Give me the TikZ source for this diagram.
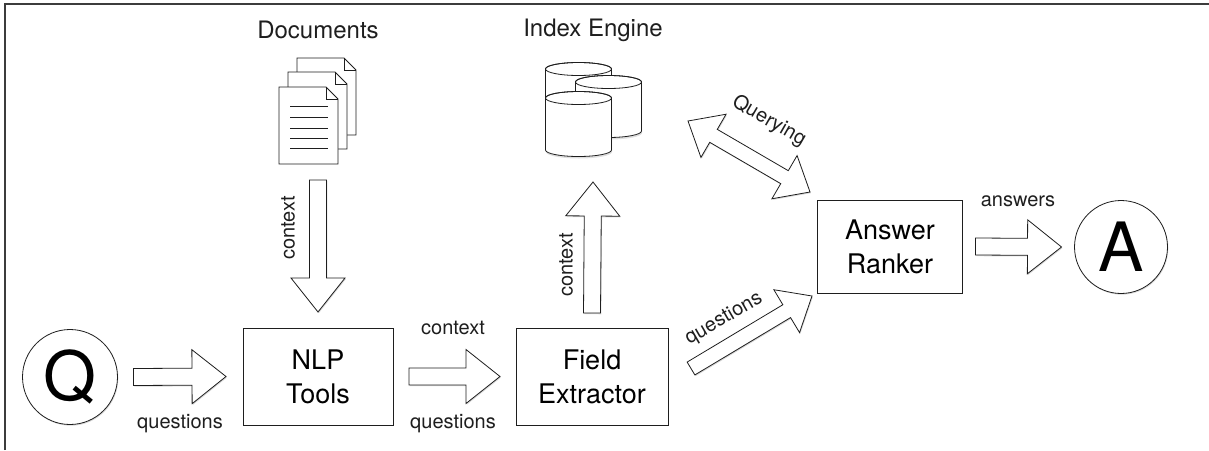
\documentclass[tikz,border=0pt]{standalone}
\usepackage{fontspec}
\setmainfont{TeX Gyre Heros}
\definecolor{QAcolLine}{HTML}{1e1e1e}
\definecolor{QAcolFrame}{HTML}{3c3c3c}
\usetikzlibrary{calc,shadows}

% arrow sizes: shaft half width, head half width, head length
\def\qashaft{8.5pt}\def\qahead{27pt}\def\qalen{34pt}
% one sheet of the documents stack, folded corner top right
\newcommand{\docpage}[2]{%
  \path[draw=QAcolLine,fill=white,line join=miter,line width=0.8pt] (#1,#2) -- ++(47,0) --
    ++(12,12) -- ++(0,65) -- ++(-59,0) -- cycle;
  \path[draw=QAcolLine,line width=0.5pt] (#1+47,#2) -- ++(0,12) -- ++(12,0);}
% one drum of the index engine: centre x, top, bottom
\newcommand{\dbdrum}[3]{%
  \path[draw=QAcolLine,fill=white,line width=0.8pt,drop shadow={shadow xshift=0.5pt,shadow yshift=-2pt,opacity=0.25}]
    (#1-33,#2) -- (#1-33,#3) arc[start angle=180,end angle=360,x radius=33pt,y radius=6.5pt] --
    (#1+33,#2) arc[start angle=0,end angle=180,x radius=33pt,y radius=6.5pt] -- cycle;
  \path[draw=QAcolLine,line width=0.8pt] (#1,#2) ellipse[x radius=33pt,y radius=6.5pt];}

\begin{document}
\begin{tikzpicture}[x=1pt, y=-1pt, inner sep=0pt, outer sep=0pt,
  qashadow/.style={drop shadow={shadow xshift=0.8pt,shadow yshift=-1.2pt,opacity=0.3}},
  toolbox/.style={draw=QAcolLine,fill=white,line width=0.8pt,qashadow,align=center,
    minimum width=150pt,minimum height=97pt,font=\fontsize{27}{34}\selectfont},
  endpoint/.style={circle,draw=QAcolLine,fill=white,line width=0.8pt,qashadow,
    minimum size=95pt,font=\fontsize{68}{68}\selectfont},
  lbl/.style={font=\fontsize{20}{24}\selectfont,text=QAcolLine},
  ttl/.style={font=\fontsize{24}{28}\selectfont,text=QAcolLine},
  slim/.code={\def\qashaft{7.5pt}\def\qahead{25pt}\def\qalen{29.5pt}},
  blockarrow/.style={draw=QAcolLine,fill=white,line width=0.8pt,line join=miter,qashadow,
    to path={let \p1=(\tikztostart), \p2=(\tikztotarget), \n1={atan2(\y2-\y1,\x2-\x1)} in
      ($(\p1)+(\n1+90:\qashaft)$) -- ($(\p2)+(\n1+180:\qalen)+(\n1+90:\qashaft)$) --
      ($(\p2)+(\n1+180:\qalen)+(\n1+90:\qahead)$) -- (\p2) --
      ($(\p2)+(\n1+180:\qalen)+(\n1-90:\qahead)$) -- ($(\p2)+(\n1+180:\qalen)+(\n1-90:\qashaft)$) --
      ($(\p1)+(\n1-90:\qashaft)$) -- cycle}},
  twowayarrow/.style={draw=QAcolLine,fill=white,line width=0.8pt,line join=miter,qashadow,
    to path={let \p1=(\tikztostart), \p2=(\tikztotarget), \n1={atan2(\y2-\y1,\x2-\x1)} in
      (\p1) -- ($(\p1)+(\n1:\qalen)+(\n1+90:\qahead)$) -- ($(\p1)+(\n1:\qalen)+(\n1+90:\qashaft)$) --
      ($(\p2)+(\n1+180:\qalen)+(\n1+90:\qashaft)$) -- ($(\p2)+(\n1+180:\qalen)+(\n1+90:\qahead)$) --
      (\p2) -- ($(\p2)+(\n1+180:\qalen)+(\n1-90:\qahead)$) -- ($(\p2)+(\n1+180:\qalen)+(\n1-90:\qashaft)$) --
      ($(\p1)+(\n1:\qalen)+(\n1-90:\qashaft)$) -- ($(\p1)+(\n1:\qalen)+(\n1-90:\qahead)$) -- cycle}}]
  \useasboundingbox (0,0) rectangle (1209,450);
  \draw[QAcolFrame,line width=1.5pt] (5,450) -- (5,4) -- (1209,4);

  % documents and index engine
  \docpage{297}{58}
  \docpage{288}{72}
  \docpage{279}{87}
  \foreach \ly in {106,117,128,138,148}
    \draw[QAcolLine,line width=0.6pt] (290,\ly) -- (328,\ly);
  \coordinate (docs) at (318,164);
  \dbdrum{578.5}{69}{122}
  \dbdrum{608.5}{82}{131}
  \dbdrum{578.5}{98}{150}
  \coordinate (index) at (593,156);
  \coordinate (indexeast) at (642,131);
  \node[ttl] (docstitle) at (318,30) {Documents};
  \node[ttl] (indextitle) at (593,30) {Index Engine};

  % pipeline
  \node[endpoint] (q) at (70,377) {Q};
  \node[toolbox] (nlp) at (318,376.5) {NLP\\Tools};
  \node[toolbox,minimum width=152pt] (field) at (592,376.5) {Field\\Extractor};
  \node[toolbox,minimum width=145pt,minimum height=93pt] (ranker) at (890,246.5) {Answer\\Ranker};
  \node[endpoint,minimum size=93pt] (a) at (1121,247) {A};

  \draw[blockarrow] ([xshift=16]q.east) to ([xshift=-17]nlp.west);
  \draw[blockarrow] ([xshift=16]nlp.east) to ([xshift=-16]field.west);
  \draw[blockarrow] ([yshift=-16]docs) to ([yshift=16]nlp.north);
  \draw[blockarrow] ([yshift=15]field.north) to ([yshift=-26]index);
  \draw[blockarrow,slim] ($(field.east)+(23,-8)$) to ($(ranker.south west)+(-5.5,3)$);
  \draw[twowayarrow,slim] ($(indexeast)+(46,-10)$) to ($(ranker.north west)+(-7.5,-8)$);
  \draw[blockarrow] ([xshift=13]ranker.east) to ([xshift=-13]a.west);

  \node[lbl] (qlabel) at (180,424) {questions};
  \node[lbl] (ctxlabel) at (453,328) {context};
  \node[lbl] (q2label) at (453,424) {questions};
  \node[lbl,rotate=90] (doclabel) at (288,228) {context};
  \node[lbl,rotate=90] (fieldlabel) at (566,265) {context};
  \node[lbl,rotate=30] (q3label) at (724,319) {questions};
  \node[lbl,rotate=-30] (querylabel) at (769,121) {Querying};
  \node[lbl] (anslabel) at (1018,201) {answers};
\end{tikzpicture}
\end{document}
